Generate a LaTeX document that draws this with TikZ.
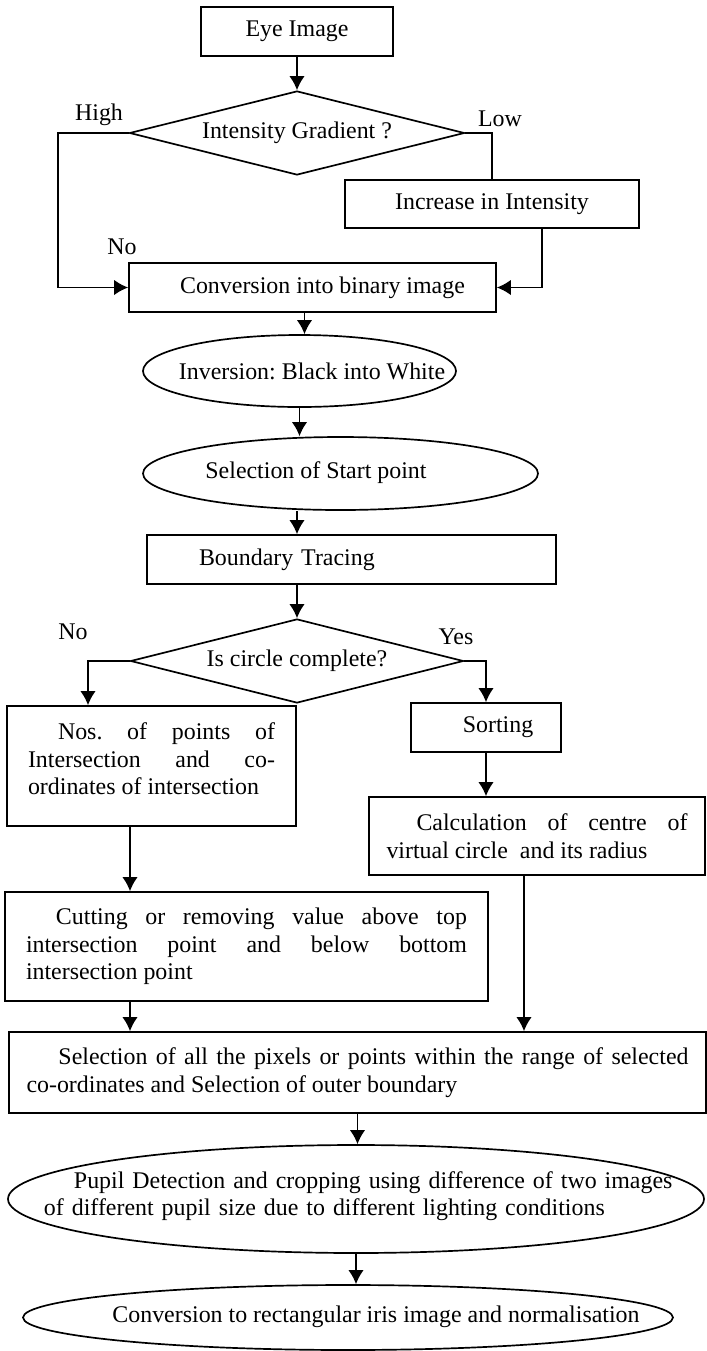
\documentclass[tikz,border=0pt]{standalone}
\usepackage{fontspec}
\setmainfont{Liberation Serif}
\usetikzlibrary{shapes.geometric,arrows.meta}
\newlength\pu
\setlength\pu{0.025cm}

\begin{document}
\begin{tikzpicture} [x=0.025cm, y=-0.025cm,
				process/.style={
				% The shape:
				rectangle,
				% The border:
				draw=black, line width=1.2pt,
				% The size:
				inner sep=0pt,
				% Font
				font=\fontsize{17}{19.6}\selectfont\frenchspacing
				},
				decision/.style={
				% The shape:
				diamond, aspect=4,
				% The border:
				draw=black, line width=1.2pt,
				% The size:
				inner sep=0pt,
				% Font
				font=\fontsize{17}{19.6}\selectfont\frenchspacing
				},
				terminal/.style={
				% The shape:
				ellipse,
				% The border:
				draw=black, line width=1.2pt,
				% The size:
				inner sep=0pt
				},
				lbl/.style={
				inner sep=0pt,
				font=\fontsize{17}{19.6}\selectfont\frenchspacing
				},
				line/.style={line width=1.2pt},
				flow/.style={line, -{Latex[length=10pt,width=11pt]}},
				]
    \useasboundingbox (0,0) rectangle (706,1351);
    % boxes
    \node [process, minimum width=192\pu, minimum height=49\pu] (eye) at (297,31.5) {Eye Image};
    \node [decision, minimum width=335\pu, minimum height=84\pu] (grad) at (297,133) {Intensity Gradient ?};
    \node [process, minimum width=294\pu, minimum height=48\pu] (incr) at (492,204) {Increase in Intensity};
    \node [process, minimum width=367\pu, minimum height=49\pu] (conv) at (312.5,287.5) {\hspace*{20\pu}Conversion into binary image};
    \node [terminal, minimum width=313\pu, minimum height=72\pu] (inv) at (299.5,371) {};
    \node [lbl] (invT) at (312,371) {Inversion: Black into White};
    \node [terminal, minimum width=395\pu, minimum height=73\pu] (start) at (340.5,473.5) {};
    \node [lbl] (startT) at (316,473) {Selection of Start point};
    \node [process, minimum width=409\pu, minimum height=49\pu, text width=409\pu, align=left] (bound) at (351.5,559.5) {\hspace*{52\pu}Boundary Tracing};
    \node [decision, minimum width=333\pu, minimum height=84\pu] (circ) at (297,661) {Is circle complete?};
    \node [process, minimum width=289\pu, minimum height=120\pu, text width=247\pu, align=justify] (nos) at (151.5,766)
        {\hspace*{30\pu}Nos. of points of\linebreak Intersection and co-\linebreak ordinates of intersection\par\kern14\pu};
    \node [process, minimum width=150\pu, minimum height=49\pu] (sort) at (486,727.5) {\hspace*{24\pu}Sorting};
    \node [process, minimum width=336\pu, minimum height=78\pu, text width=301\pu, align=justify] (centre) at (537,836)
        {\hspace*{30\pu}Calculation of centre of\linebreak virtual circle\ \ and its radius};
    \node [process, minimum width=483\pu, minimum height=109\pu, text width=441\pu, align=justify] (cut) at (246.5,946.5)
        {\hspace*{30\pu}Cutting or removing value above top\linebreak intersection point and below bottom\linebreak intersection point};
    \node [process, minimum width=697\pu, minimum height=81\pu, text width=662\pu, align=justify] (sel) at (357.5,1072.5)
        {\hspace*{32\pu}Selection of all the pixels or points within the range of selected\linebreak co-ordinates and Selection of outer boundary};
    \node [terminal, minimum width=696\pu, minimum height=108\pu] (pupil) at (356,1199) {};
    \node [lbl, text width=660\pu, align=left] (pupilT) at (374,1196)
        {\hspace*{30\pu}Pupil Detection and cropping using difference of two images\\of different pupil size due to different lighting conditions};
    \node [terminal, minimum width=650\pu, minimum height=65\pu] (norm) at (348,1317.5) {};
    \node [lbl] (normT) at (376,1317) {Conversion to rectangular iris image and normalisation};
    % branch labels
    \node [lbl] (high) at (99,115) {High};
    \node [lbl] (low) at (500,119) {Low};
    \node [lbl] (no1) at (122,247) {No};
    \node [lbl] (no2) at (73,632) {No};
    \node [lbl] (yes) at (456,637) {Yes};
    % connectors
    \draw [flow] (eye) -- (grad);
    \draw [flow] (grad.west) -- ++(-71,0) |- (conv.west);
    \draw [line] (grad.east) -| (incr.north);
    \draw [flow] ([xshift=50\pu]incr.south) |- (conv.east);
    \draw [flow] ([xshift=-8\pu]conv.south) -- ([xshift=5\pu]inv.north);
    \draw [flow] (inv.south) -- (inv.south |- start.north);
    \draw [flow] (start.south -| eye.south) -- (bound.north -| eye.south);
    \draw [flow] (bound.south -| circ.north) -- (circ.north);
    \draw [flow] (circ.west) -| ([xshift=-63.5\pu]nos.north);
    \draw [flow] (circ.east) -| (sort.north);
    \draw [flow] (sort.south) -- (sort.south |- centre.north);
    \coordinate (nosout) at ([xshift=-21.5\pu]nos.south);
    \draw [flow] (nosout) -- (nosout |- cut.north);
    \coordinate (centreout) at ([xshift=-13\pu]centre.south);
    \draw [flow] (centreout) -- (centreout |- sel.north);
    \coordinate (cutout) at ([xshift=-116.5\pu]cut.south);
    \draw [flow] (cutout) -- (cutout |- sel.north);
    \draw [flow] (sel.south) -- (sel.south |- pupil.north);
    \draw [flow] (pupil.south) -- (pupil.south |- norm.north);
\end{tikzpicture}
\end{document}
